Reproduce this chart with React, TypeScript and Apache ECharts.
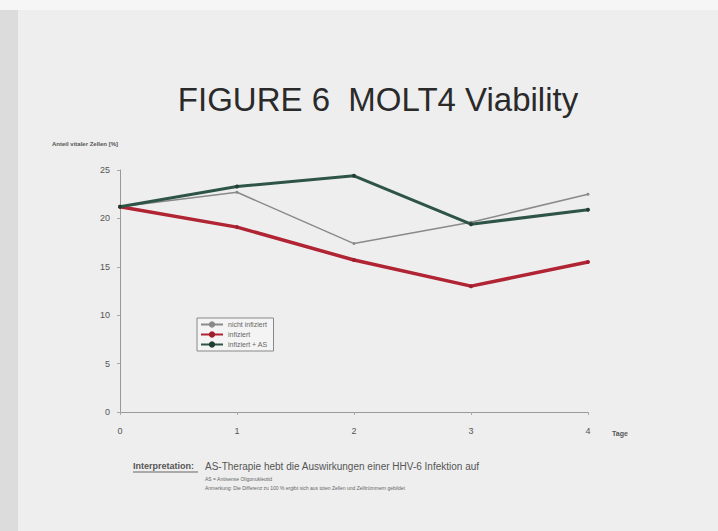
import React, { useEffect, useRef } from "react";
import * as echarts from "echarts";

const days = ["0", "1", "2", "3", "4"];
const nichtInfiziert = [21.2, 22.7, 17.4, 19.6, 22.5];
const infiziert = [21.2, 19.1, 15.7, 13.0, 15.5];
const infiziertAS = [21.2, 23.3, 24.4, 19.4, 20.9];
const seriesNames = ["nicht infiziert", "infiziert", "infiziert + AS"];

export default function App() {
  const ref = useRef<HTMLDivElement>(null);
  useEffect(() => {
    if (!ref.current) return;
    const chart = echarts.init(ref.current, null, { renderer: "svg" });
    const font = "Liberation Sans, Arial, sans-serif";
    chart.setOption({
      animation: false,
      backgroundColor: "#eeeeee",
      title: {
        text: "FIGURE 6  MOLT4 Viability",
        left: 373,
        top: 78,
        textAlign: "center",
        textStyle: { fontFamily: font, fontSize: 33, fontWeight: "normal", color: "#2a2a2a" },
      },
      graphic: [
        { type: "rect", left: 0, top: 0, shape: { width: 18, height: 531 }, style: { fill: "#dcdcdc" }, z: -1 },
        { type: "rect", left: 0, top: 0, shape: { width: 718, height: 10 }, style: { fill: "#f6f6f6" }, z: -1 },
        { type: "text", left: 52, top: 141, style: { text: "Anteil vitaler Zellen [%]", font: "bold 6px " + font, fill: "#555" } },
        { type: "text", left: 612, top: 430, style: { text: "Tage", font: "bold 7px " + font, fill: "#555" } },
        {
          type: "text", left: 133, top: 461,
          style: { text: "Interpretation:", font: "bold 9px " + font, fill: "#555" },
        },
        { type: "line", shape: { x1: 133, y1: 472, x2: 198, y2: 472 }, style: { stroke: "#666", lineWidth: 1 } },
        {
          type: "text", left: 205, top: 461,
          style: { text: "AS-Therapie hebt die Auswirkungen einer HHV-6 Infektion auf", font: "10px " + font, fill: "#555" },
        },
        { type: "text", left: 205, top: 476, style: { text: "AS = Antisense Oligonukleotid", font: "5px " + font, fill: "#666" } },
        {
          type: "text", left: 205, top: 485,
          style: { text: "Anmerkung: Die Differenz zu 100 % ergibt sich aus toten Zellen und Zelltrümmern gebildet", font: "5px " + font, fill: "#666" },
        },
      ],
      legend: {
        left: 197,
        top: 318,
        orient: "vertical",
        itemGap: 3,
        itemWidth: 22,
        itemHeight: 8,
        padding: [3, 6, 3, 3],
        borderColor: "#888",
        borderWidth: 1,
        backgroundColor: "#f4f4f4",
        data: seriesNames,
        textStyle: { fontFamily: font, fontSize: 7, color: "#666" },
      },
      grid: { left: 120, right: 130, top: 170, bottom: 119, containLabel: false },
      xAxis: {
        type: "category",
        boundaryGap: false,
        data: days,
        axisLine: { lineStyle: { color: "#999" } },
        axisTick: { show: true, length: 3, lineStyle: { color: "#aaa" } },
        axisLabel: { fontFamily: font, fontSize: 9, color: "#555", margin: 14 },
      },
      yAxis: {
        type: "value",
        min: 0,
        max: 25,
        interval: 5,
        splitLine: { show: false },
        axisLine: { show: true, lineStyle: { color: "#999" } },
        axisTick: { show: true, length: 3, lineStyle: { color: "#aaa" } },
        axisLabel: { fontFamily: font, fontSize: 9, color: "#555", margin: 10 },
      },
      series: [
        {
          name: seriesNames[0],
          type: "line",
          data: nichtInfiziert,
          symbol: "circle",
          symbolSize: 3,
          lineStyle: { color: "#8a8a8a", width: 1.5 },
          itemStyle: { color: "#8a8a8a" },
          z: 3,
        },
        {
          name: seriesNames[1],
          type: "line",
          data: infiziert,
          symbol: "circle",
          symbolSize: 4,
          lineStyle: { color: "#b02433", width: 3.5 },
          itemStyle: { color: "#a01f2e" },
          z: 2,
        },
        {
          name: seriesNames[2],
          type: "line",
          data: infiziertAS,
          symbol: "circle",
          symbolSize: 4,
          lineStyle: { color: "#2e5447", width: 3 },
          itemStyle: { color: "#223d33" },
          z: 4,
        },
      ],
    });
    return () => chart.dispose();
  }, []);
  return <div ref={ref} style={{ width: 718, height: 531, position: "absolute", left: 0, top: 0 }} />;
}
